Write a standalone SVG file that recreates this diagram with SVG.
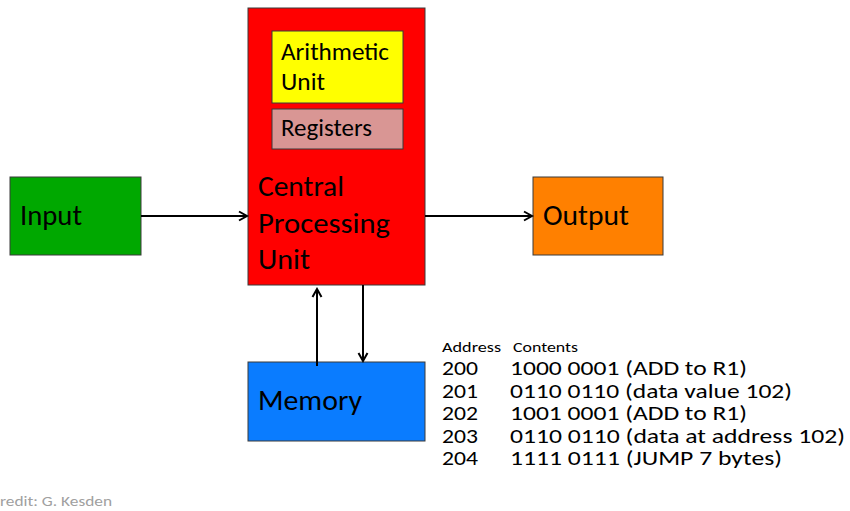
<svg xmlns="http://www.w3.org/2000/svg" width="850" height="511" viewBox="0 0 850 511">
<style>
text{font-family:Carlito,Lato,"Open Sans",sans-serif;fill:#000}
.box{stroke:#3a3a3a;stroke-width:1}
.big{font-size:28px}
.mid{font-size:24px}
.row{font-size:20px}
.hdr{font-size:15px}
.conn{stroke:#000;stroke-width:2;fill:none}
</style>
<defs>
<marker id="arr" viewBox="0 0 12 12" refX="10" refY="6" markerWidth="12" markerHeight="12" markerUnits="userSpaceOnUse" orient="auto">
<path d="M2,1.5 L10,6 L2,10.5" fill="none" stroke="#000" stroke-width="2"/>
</marker>
</defs>
<rect width="850" height="511" fill="#fff"/>
<g id="cpu">
<rect class="box" x="248" y="8" width="177" height="277" fill="#ff0000"/>
<text class="big" x="258" y="196" textLength="86" lengthAdjust="spacingAndGlyphs">Central</text>
<text class="big" x="258" y="233" textLength="132" lengthAdjust="spacingAndGlyphs">Processing</text>
<text class="big" x="258" y="269" textLength="52" lengthAdjust="spacingAndGlyphs">Unit</text>
</g>
<g id="arith">
<rect class="box" x="272" y="31" width="131" height="72" fill="#ffff00"/>
<text class="mid" x="281" y="60" textLength="108" lengthAdjust="spacingAndGlyphs">Arithmetic</text>
<text class="mid" x="281" y="90" textLength="44" lengthAdjust="spacingAndGlyphs">Unit</text>
</g>
<g id="registers">
<rect class="box" x="272" y="109" width="131" height="40" fill="#d99694"/>
<text class="mid" x="281" y="136" textLength="91" lengthAdjust="spacingAndGlyphs">Registers</text>
</g>
<g id="input">
<rect class="box" x="10" y="177" width="131" height="78" fill="#00a800"/>
<text class="big" x="20" y="225" textLength="62" lengthAdjust="spacingAndGlyphs">Input</text>
</g>
<g id="output">
<rect class="box" x="533" y="177" width="130" height="78" fill="#ff8000"/>
<text class="big" x="543" y="225" textLength="86" lengthAdjust="spacingAndGlyphs">Output</text>
</g>
<g id="memory">
<rect class="box" x="248" y="362" width="177" height="79" fill="#0a7cff"/>
<text class="big" x="258" y="410" textLength="104" lengthAdjust="spacingAndGlyphs">Memory</text>
</g>
<g id="connectors">
<line class="conn" x1="141" y1="216" x2="247" y2="216" marker-end="url(#arr)"/>
<line class="conn" x1="425" y1="216" x2="532" y2="216" marker-end="url(#arr)"/>
<line class="conn" x1="317" y1="366" x2="317" y2="289" marker-end="url(#arr)"/>
<line class="conn" x1="363" y1="285" x2="363" y2="361" marker-end="url(#arr)"/>
</g>
<g id="table">
<text class="hdr" x="442" y="352" textLength="59" lengthAdjust="spacingAndGlyphs">Address</text>
<text class="hdr" x="513" y="352" textLength="65" lengthAdjust="spacingAndGlyphs">Contents</text>
<text class="row" x="442" y="375" textLength="36" lengthAdjust="spacingAndGlyphs">200</text>
<text class="row" x="510" y="375" textLength="237" lengthAdjust="spacingAndGlyphs">1000 0001 (ADD to R1)</text>
<text class="row" x="442" y="397.5" textLength="36" lengthAdjust="spacingAndGlyphs">201</text>
<text class="row" x="510" y="397.5" textLength="282" lengthAdjust="spacingAndGlyphs">0110 0110 (data value 102)</text>
<text class="row" x="442" y="420" textLength="36" lengthAdjust="spacingAndGlyphs">202</text>
<text class="row" x="510" y="420" textLength="237" lengthAdjust="spacingAndGlyphs">1001 0001 (ADD to R1)</text>
<text class="row" x="442" y="442.5" textLength="36" lengthAdjust="spacingAndGlyphs">203</text>
<text class="row" x="510" y="442.5" textLength="335" lengthAdjust="spacingAndGlyphs">0110 0110 (data at address 102)</text>
<text class="row" x="442" y="465" textLength="36" lengthAdjust="spacingAndGlyphs">204</text>
<text class="row" x="510" y="465" textLength="272" lengthAdjust="spacingAndGlyphs">1111 0111 (JUMP 7 bytes)</text>
</g>
<text x="0" y="506" style="font-size:14.5px;fill:#a0a0a0" textLength="112" lengthAdjust="spacingAndGlyphs">redit: G. Kesden</text>
</svg>
